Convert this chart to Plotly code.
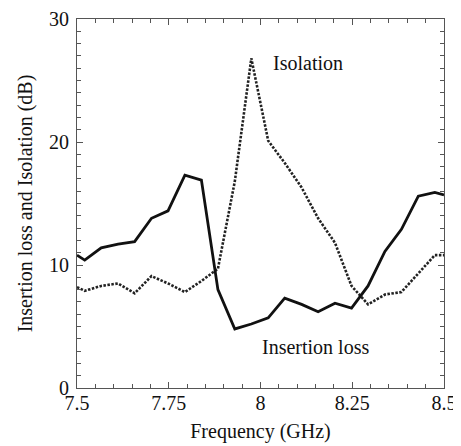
import plotly.graph_objects as go

freq = [7.5, 7.521, 7.566, 7.612, 7.657, 7.703, 7.748, 7.794, 7.839, 7.884,
        7.93, 7.975, 8.021, 8.066, 8.112, 8.157, 8.203, 8.248, 8.293, 8.339,
        8.384, 8.43, 8.475, 8.5]
insertion_loss = [10.8, 10.4, 11.4, 11.7, 11.9, 13.8, 14.4, 17.3, 16.9, 8.0,
                  4.8, 5.2, 5.7, 7.3, 6.8, 6.2, 6.9, 6.5, 8.3, 11.1,
                  12.9, 15.6, 15.9, 15.7]
isolation = [8.2, 7.9, 8.3, 8.5, 7.7, 9.1, 8.5, 7.8, 8.7, 9.7,
             16.8, 26.8, 20.1, 18.3, 16.3, 13.8, 11.8, 8.3, 6.8, 7.6,
             7.8, 9.3, 10.8, 10.8]
x_ticks = [7.5, 7.75, 8, 8.25, 8.5]
x_labels = ["7.5", "7.75", "8", "8.25", "8.5"]
y_ticks = [0, 10, 20, 30]

FONT = "Liberation Serif, Times New Roman, serif"

fig = go.Figure()
fig.add_trace(go.Scatter(x=freq, y=isolation, mode="lines",
                         line=dict(color="#222", width=2.6, dash="2.5px,1.5px"),
                         name="Isolation", showlegend=False))
fig.add_trace(go.Scatter(x=freq, y=insertion_loss, mode="lines",
                         line=dict(color="#111", width=2.8),
                         name="Insertion loss", showlegend=False))

fig.add_annotation(x=8.13, y=26.4, text="Isolation", showarrow=False,
                   font=dict(family=FONT, size=20, color="#111"))
fig.add_annotation(x=8.151, y=3.3, text="Insertion loss", showarrow=False,
                   font=dict(family=FONT, size=20, color="#111"))

axis_common = dict(showgrid=False, zeroline=False, showline=True, automargin=False,
                   linecolor="#555", linewidth=1.2, mirror="ticks",
                   ticks="inside", ticklen=6, tickcolor="#555", tickwidth=1,
                   tickfont=dict(family=FONT, size=20, color="#111"))

fig.update_xaxes(range=[7.5, 8.5], tickvals=x_ticks, ticktext=x_labels,
                 ticklabelstandoff=-3,
                 title=dict(text="Frequency (GHz)", font=dict(family=FONT, size=20, color="#111"), standoff=10),
                 minor=dict(dtick=0.05, tick0=7.5, ticks="inside", ticklen=4, tickcolor="#555"),
                 **axis_common)
fig.update_yaxes(range=[0, 30], tickvals=y_ticks, ticklabelstandoff=3,
                 title=dict(text="Insertion loss and Isolation (dB)", font=dict(family=FONT, size=20, color="#111"), standoff=10),
                 minor=dict(dtick=1, tick0=0, ticks="inside", ticklen=4, tickcolor="#555"),
                 **axis_common)

# page body has an 8px default margin; size the figure to fit the window
fig.update_layout(width=453, height=438,
                  margin=dict(l=69, r=17, t=11, b=58),
                  plot_bgcolor="white", paper_bgcolor="white",
                  font=dict(family=FONT))

fig.write_html("out.html")
